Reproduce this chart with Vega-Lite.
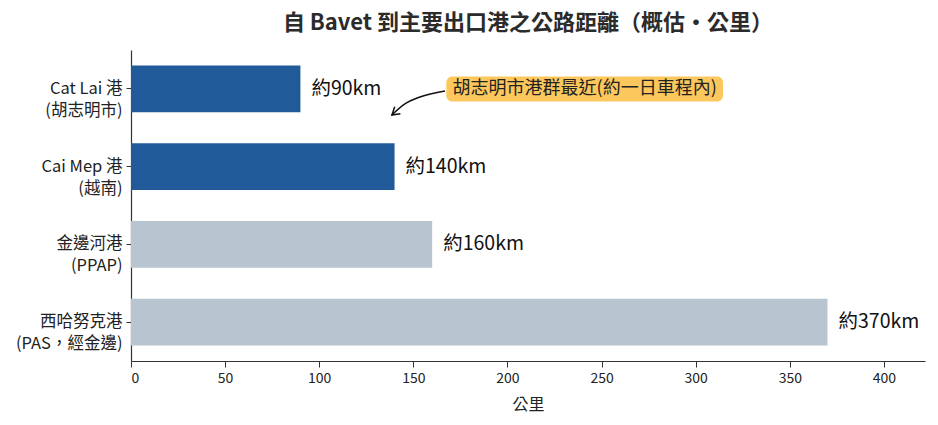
{
  "$schema": "https://vega.github.io/schema/vega-lite/v6.json",
  "width": 794,
  "height": 311,
  "autosize": "none",
  "padding": {"left": 131, "top": 50, "right": 13, "bottom": 64},
  "background": "white",
  "config": {
    "view": {"stroke": null},
    "font": "Noto Sans CJK TC",
    "axis": {"domainColor": "#333333", "tickColor": "#333333", "labelColor": "#222222", "titleColor": "#222222", "grid": false}
  },
  "title": {
    "text": "自 Bavet 到主要出口港之公路距離（概估·公里）",
    "fontSize": 22,
    "fontWeight": "bold",
    "color": "#2b2b2b",
    "anchor": "middle",
    "offset": 15
  },
  "datasets": {
    "ports": [
      {"port": "Cat Lai 港\n(胡志明市)", "km": 90, "label": "約90km", "group": "hcm"},
      {"port": "Cai Mep 港\n(越南)", "km": 140, "label": "約140km", "group": "hcm"},
      {"port": "金邊河港\n(PPAP)", "km": 160, "label": "約160km", "group": "other"},
      {"port": "西哈努克港\n(PAS，經金邊)", "km": 370, "label": "約370km", "group": "other"}
    ],
    "note": [
      {"port": "Cat Lai 港\n(胡志明市)", "x1": 167.5, "x2": 314.5, "xm": 241, "text": "胡志明市港群最近(約一日車程內)"}
    ],
    "arrow": [
      {"x": 166.8, "pos": 0.027},
      {"x": 153.5, "pos": 0.104},
      {"x": 145.5, "pos": 0.194},
      {"x": 138.6, "pos": 0.336}
    ],
    "head": [
      {"x": 138.6, "pos": 0.336}
    ]
  },
  "layer": [
    {
      "encoding": {
        "y": {
          "field": "port",
          "type": "nominal",
          "sort": null,
          "scale": {"domain": ["Cat Lai 港\n(胡志明市)", "Cai Mep 港\n(越南)", "金邊河港\n(PPAP)", "西哈努克港\n(PAS，經金邊)"], "paddingInner": 0.4, "paddingOuter": 0.2},
          "axis": {
            "title": null,
            "labelExpr": "split(datum.label, '\\n')",
            "labelFontSize": 16.5,
            "labelLineHeight": 22,
            "labelPadding": 4,
            "tickSize": 5,
            "domainWidth": 1.2
          }
        }
      },
      "layer": [
        {
          "data": {"name": "ports"},
          "mark": {"type": "bar"},
          "encoding": {
            "x": {
              "field": "km",
              "type": "quantitative",
              "scale": {"domain": [0, 421.8], "nice": false},
              "axis": {
                "title": "公里",
                "titleFontSize": 16,
                "titleFontWeight": "normal",
                "titlePadding": 11,
                "values": [0, 50, 100, 150, 200, 250, 300, 350, 400],
                "labelFontSize": 14,
                "labelPadding": 4,
                "tickSize": 6,
                "domainWidth": 1.2
              }
            },
            "color": {
              "field": "group",
              "type": "nominal",
              "scale": {"domain": ["hcm", "other"], "range": ["#215a98", "#b9c4d1"]},
              "legend": null
            }
          }
        },
        {
          "data": {"name": "ports"},
          "mark": {"type": "text", "align": "left", "baseline": "middle", "dx": 11, "fontSize": 19.5, "color": "#111111"},
          "encoding": {
            "x": {"field": "km", "type": "quantitative", "scale": {"domain": [0, 421.8], "nice": false}},
            "text": {"field": "label"}
          }
        },
        {
          "data": {"name": "note"},
          "mark": {"type": "bar", "height": 25, "cornerRadius": 6, "color": "#fcc75c"},
          "encoding": {
            "x": {"field": "x1", "type": "quantitative", "scale": {"domain": [0, 421.8], "nice": false}},
            "x2": {"field": "x2"}
          }
        },
        {
          "data": {"name": "note"},
          "mark": {"type": "text", "align": "center", "baseline": "middle", "fontSize": 18, "color": "#222222"},
          "encoding": {
            "x": {"field": "xm", "type": "quantitative", "scale": {"domain": [0, 421.8], "nice": false}},
            "text": {"field": "text"}
          }
        }
      ]
    },
    {
      "encoding": {
        "y": {
          "field": "pos",
          "type": "quantitative",
          "scale": {"domain": [-0.5, 3.5], "reverse": true, "nice": false, "zero": false},
          "axis": null
        },
        "x": {"field": "x", "type": "quantitative", "scale": {"domain": [0, 421.8], "nice": false}}
      },
      "layer": [
        {
          "data": {"name": "arrow"},
          "mark": {"type": "line", "interpolate": "monotone", "color": "#111111", "strokeWidth": 1.5}
        },
        {
          "data": {"name": "head"},
          "mark": {"type": "point", "shape": "M -0.6 1 L 0 0 L 0.6 1", "filled": false, "stroke": "#111111", "strokeWidth": 1.5, "size": 220, "angle": 230, "opacity": 1}
        }
      ]
    }
  ],
  "resolve": {"scale": {"y": "independent"}}
}
